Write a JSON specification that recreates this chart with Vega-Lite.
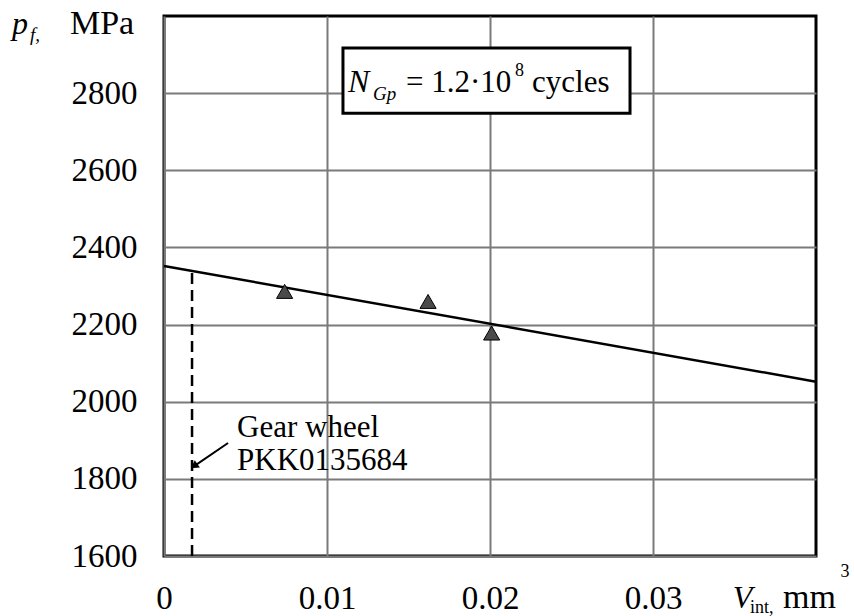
{
  "$schema": "https://vega.github.io/schema/vega-lite/v6.json",
  "width": 652,
  "height": 540,
  "autosize": {"type": "none"},
  "padding": {"left": 164, "top": 16, "right": 38, "bottom": 60},
  "background": "white",
  "view": {"stroke": "black", "strokeWidth": 3},
  "config": {
    "font": "Liberation Serif",
    "axis": {
      "labelFont": "Liberation Serif",
      "labelFontSize": 33,
      "labelColor": "black",
      "ticks": false,
      "domain": false,
      "grid": true,
      "gridColor": "#7a7a7a",
      "gridWidth": 2,
      "title": null
    }
  },
  "datasets": {
    "fit": [{"v": 0, "p": 2352}, {"v": 0.04, "p": 2052}],
    "gear": [{"v": 0.00172, "p": 1600}, {"v": 0.00172, "p": 2340}],
    "arrow": [{"v": 0.00393, "p": 1893}, {"v": 0.00185, "p": 1833}],
    "head": [{"v": 0.00185, "p": 1833}],
    "tests": [{"v": 0.0074, "p": 2286}, {"v": 0.0162, "p": 2260}, {"v": 0.0201, "p": 2178}],
    "box": [{"v": 0.01098, "v2": 0.02859, "p": 2917, "p2": 2748}],
    "italicBig": [
      {"v": 0.01129, "p": 2802, "t": "N"},
      {"v": -0.00933, "p": 2953, "t": "p"},
      {"v": 0.0349, "p": 1465, "t": "V"}
    ],
    "italicSmall": [
      {"v": 0.01282, "p": 2782, "t": "Gp"},
      {"v": -0.00822, "p": 2935, "t": "f,"}
    ],
    "normalBig": [
      {"v": 0.01485, "p": 2802, "t": "= 1.2·10"},
      {"v": 0.02258, "p": 2802, "t": "cycles"},
      {"v": 0.00448, "p": 1909, "t": "Gear wheel"},
      {"v": 0.00448, "p": 1823, "t": "PKK0135684"}
    ],
    "titleText": [
      {"v": -0.00577, "p": 2953, "t": "MPa"},
      {"v": 0.03798, "p": 1465, "t": "mm"}
    ],
    "normalSmall": [
      {"v": 0.02153, "p": 2845, "t": "8"},
      {"v": 0.03595, "p": 1452, "t": "int,"},
      {"v": 0.0415, "p": 1545, "t": "3"}
    ]
  },
  "encoding": {
    "x": {"field": "v", "type": "quantitative", "scale": {"domain": [0, 0.04], "nice": false, "zero": false}},
    "y": {"field": "p", "type": "quantitative", "scale": {"domain": [1600, 3000], "nice": false, "zero": false}}
  },
  "layer": [
    {
      "data": {"name": "fit"},
      "mark": {"type": "line", "color": "black", "strokeWidth": 2.5},
      "encoding": {
        "x": {"field": "v", "type": "quantitative", "axis": {"values": [0, 0.01, 0.02, 0.03], "format": ".2~f", "labelPadding": 52, "labelFlush": false, "labelBaseline": "alphabetic"}},
        "y": {"field": "p", "type": "quantitative", "axis": {"values": [1600, 1800, 2000, 2200, 2400, 2600, 2800], "format": "d", "labelPadding": 27}}
      }
    },
    {
      "data": {"name": "gear"},
      "mark": {"type": "line", "color": "black", "strokeWidth": 2.5, "strokeDash": [11, 6]},
      "encoding": {}
    },
    {
      "data": {"name": "arrow"},
      "mark": {"type": "line", "color": "black", "strokeWidth": 2},
      "encoding": {}
    },
    {
      "data": {"name": "head"},
      "mark": {"type": "point", "shape": "triangle-up", "filled": true, "color": "black", "size": 80, "angle": 235, "opacity": 1},
      "encoding": {}
    },
    {
      "data": {"name": "tests"},
      "mark": {"type": "point", "shape": "triangle-up", "filled": true, "color": "#4a4a4a", "stroke": "black", "strokeWidth": 1, "size": 260, "opacity": 1},
      "encoding": {}
    },
    {
      "data": {"name": "box"},
      "mark": {"type": "rect", "fill": "white", "stroke": "black", "strokeWidth": 3},
      "encoding": {"x2": {"field": "v2"}, "y2": {"field": "p2"}}
    },
    {
      "data": {"name": "italicBig"},
      "mark": {"type": "text", "font": "Liberation Serif", "fontStyle": "italic", "fontSize": 32, "align": "left", "baseline": "alphabetic", "color": "black"},
      "encoding": {"text": {"field": "t"}}
    },
    {
      "data": {"name": "italicSmall"},
      "mark": {"type": "text", "font": "Liberation Serif", "fontStyle": "italic", "fontSize": 19, "align": "left", "baseline": "alphabetic", "color": "black"},
      "encoding": {"text": {"field": "t"}}
    },
    {
      "data": {"name": "normalBig"},
      "mark": {"type": "text", "font": "Liberation Serif", "fontSize": 31, "align": "left", "baseline": "alphabetic", "color": "black"},
      "encoding": {"text": {"field": "t"}}
    },
    {
      "data": {"name": "titleText"},
      "mark": {"type": "text", "font": "Liberation Serif", "fontSize": 34, "align": "left", "baseline": "alphabetic", "color": "black"},
      "encoding": {"text": {"field": "t"}}
    },
    {
      "data": {"name": "normalSmall"},
      "mark": {"type": "text", "font": "Liberation Serif", "fontSize": 18, "align": "left", "baseline": "alphabetic", "color": "black"},
      "encoding": {"text": {"field": "t"}}
    }
  ]
}
